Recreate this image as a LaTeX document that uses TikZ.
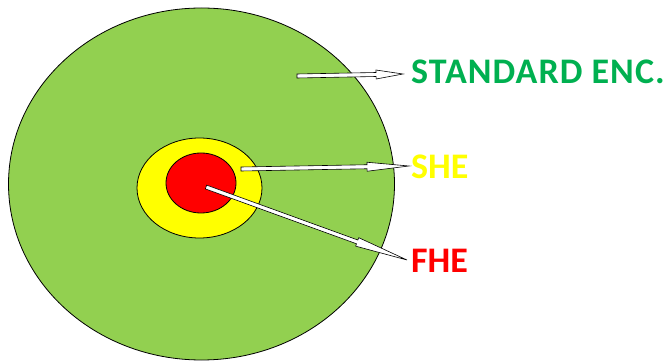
\documentclass[tikz,border=0pt]{standalone}
\usepackage{fontspec}
\setmainfont{Carlito}
\usetikzlibrary{calc}
\definecolor{biggreen}{HTML}{92D050}
\definecolor{txtgreen}{HTML}{00B050}
\definecolor{yel}{HTML}{FFFF00}
\definecolor{rd}{HTML}{FF0000}
\newcommand\blockarrow[3]{%
  \coordinate (#1h) at ($(#2)!#3!(#1)$);
  \draw[arrowbody] ($(#1)!2pt!90:(#2)$) -- ($(#1h)!2pt!90:(#2)$) -- ($(#1h)!4.5pt!90:(#2)$) -- (#2)
    -- ($(#1h)!4.5pt!-90:(#2)$) -- ($(#1h)!2pt!-90:(#2)$) -- ($(#1)!2pt!-90:(#2)$) -- cycle;}
\begin{document}
\begin{tikzpicture}[x=1pt,y=1pt,
  blob/.style={draw=black, line width=0.8pt},
  arrowbody/.style={draw=black, fill=white, line width=0.6pt, line join=miter},
  lbl/.style={anchor=base west, inner sep=0pt, font=\bfseries\fontsize{36}{40}\selectfont}]
\useasboundingbox (0,0) rectangle (668,361);
\path[blob, fill=biggreen] (201.5,177) ellipse [x radius=193, y radius=176];
\path[blob, fill=yel] (199.5,173) ellipse [x radius=62.5, y radius=50];
\path[blob, fill=rd] (201,178) ellipse [x radius=35, y radius=30];
\node[lbl, text=txtgreen] (std) at (411,277) {\addfontfeatures{LetterSpace=3}STANDARD\hspace{0.25em}ENC.};
\node[lbl, text=yel] (she) at (411,182) {SHE};
\node[lbl, text=rd] (fhe) at (411,88) {FHE};
\coordinate (a1) at (297,285);
\coordinate (b1) at (403,287);
\coordinate (a2) at (241,192);
\coordinate (b2) at (409,195);
\coordinate (a3) at (206,174);
\coordinate (b3) at (407,101);
\blockarrow{a1}{b1}{27pt}
\blockarrow{a2}{b2}{42pt}
\blockarrow{a3}{b3}{53pt}
\end{tikzpicture}
\end{document}
